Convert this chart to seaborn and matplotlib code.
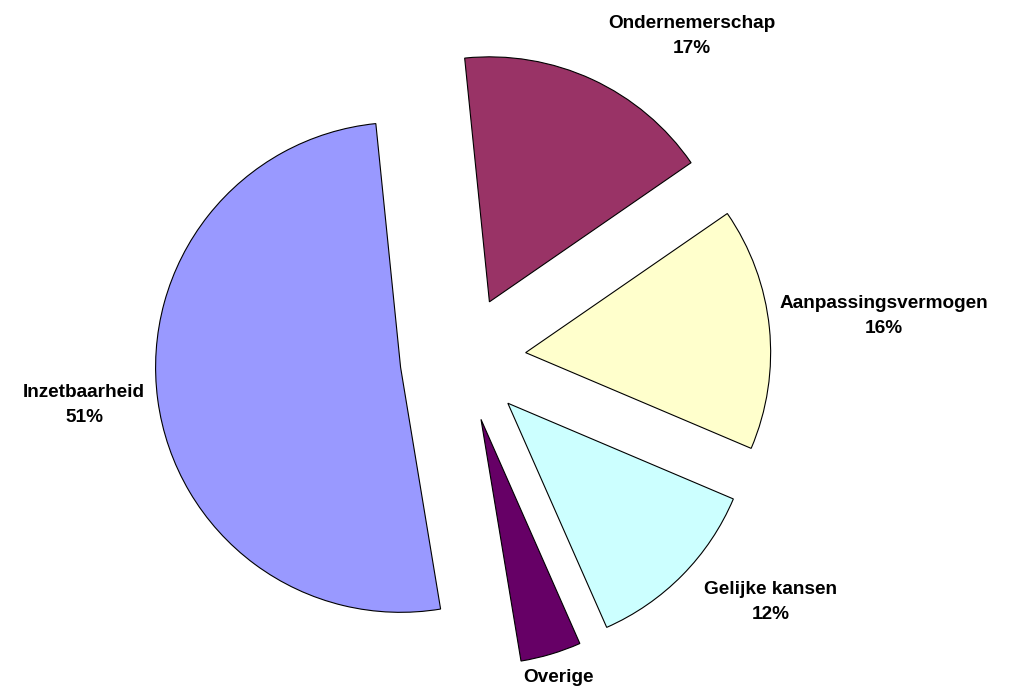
import numpy as np
import seaborn as sns
import matplotlib.pyplot as plt

# Data
categories = ['Ondernemerschap', 'Aanpassingsvermogen', 'Gelijke kansen', 'Overige', 'Inzetbaarheid']
shares = [17, 16, 12, 4, 51]
colors = ['#993366', '#FFFFCC', '#CCFFFF', '#660066', '#9999FF']

# label placement (in units of the pie radius)
label_pos = [(0.935, 1.318), (1.718, 0.176), (1.257, -0.992), (0.388, -1.298), (-1.547, -0.188)]

sns.set_style("white")
plt.rcParams['font.family'] = ['Liberation Sans', 'DejaVu Sans']

W, H = 1017, 687
R = 245.0
cx, cy = 463.0, 359.0

fig = plt.figure(figsize=(W / 100, H / 100), dpi=100)
ax = fig.add_axes([0, 0, 1, 1])

wedges, _ = ax.pie(
    shares,
    colors=colors,
    startangle=95.8,
    counterclock=False,
    explode=[0.257] * len(shares),
    radius=1.0,
    wedgeprops=dict(edgecolor='black', linewidth=0.8),
)

for name, val, (x, y) in zip(categories, shares, label_pos):
    # the percentage of the last-but-one slice falls below the picture edge
    txt = name if name == 'Overige' else f"{name}\n{val}%"
    ax.text(x, y, txt, ha='center', va='center', color='black',
            fontsize=13.7, fontweight='bold', linespacing=1.6)

ax.set_xlim(-cx / R, (W - cx) / R)
ax.set_ylim(-(H - cy) / R, cy / R)
ax.set_aspect('auto')
ax.axis('off')

fig.savefig('out.png', dpi=100)
